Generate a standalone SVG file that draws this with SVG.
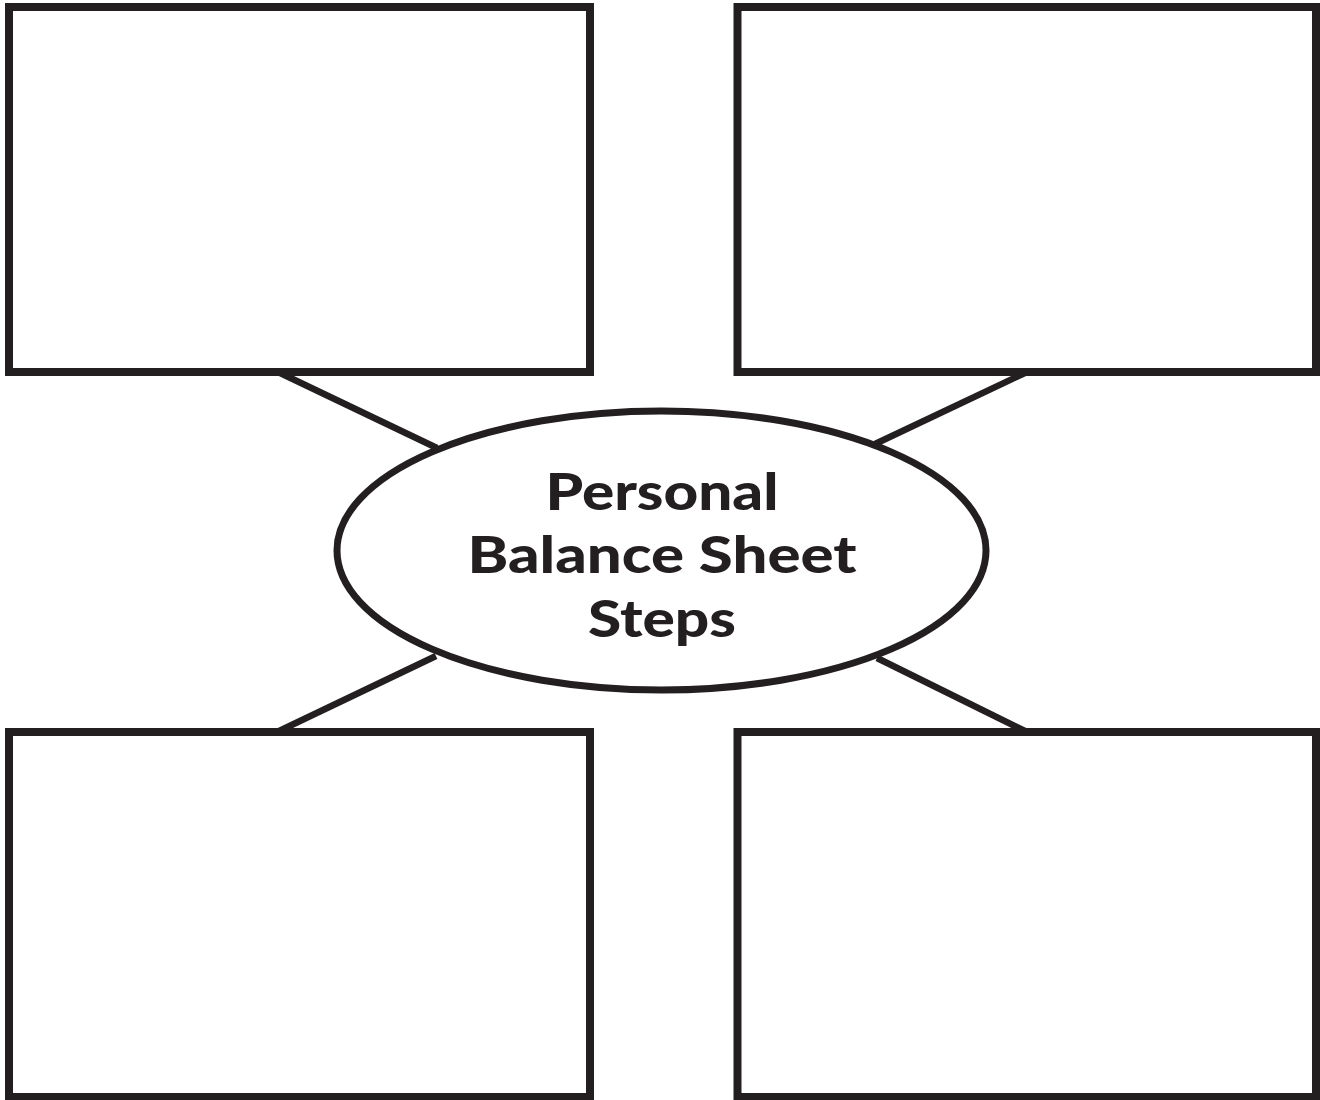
<svg xmlns="http://www.w3.org/2000/svg" width="1320" height="1100" viewBox="0 0 1320 1100">
<style>
.box{fill:#fff;stroke:#231f20;stroke-width:8}
.conn{stroke:#231f20;stroke-width:6.5;fill:none}
.hub{fill:#fff;stroke:#231f20;stroke-width:7}
.t{font-family:Lato,"Liberation Sans",sans-serif;font-weight:900;font-size:52px;fill:#231f20;text-anchor:middle}
</style>
<rect width="1320" height="1100" fill="#fff"/>
<g id="connectors">
<line class="conn" x1="278" y1="372" x2="437" y2="448"/>
<line class="conn" x1="1027" y1="372" x2="875" y2="444"/>
<line class="conn" x1="436" y1="656" x2="277" y2="732"/>
<line class="conn" x1="877" y1="658" x2="1027" y2="732"/>
</g>
<g id="box-top-left"><rect class="box" x="9" y="7" width="581" height="365"/></g>
<g id="box-top-right"><rect class="box" x="737.5" y="7" width="578.5" height="365"/></g>
<g id="box-bottom-left"><rect class="box" x="9" y="732" width="581" height="365"/></g>
<g id="box-bottom-right"><rect class="box" x="737.5" y="732" width="578.5" height="365"/></g>
<g id="hub">
<ellipse class="hub" cx="661.5" cy="550.5" rx="324.5" ry="139.5"/>
<text class="t" x="662" y="510" textLength="233" lengthAdjust="spacingAndGlyphs">Personal</text>
<text class="t" x="662" y="573" textLength="389" lengthAdjust="spacingAndGlyphs">Balance Sheet</text>
<text class="t" x="662" y="637" textLength="148" lengthAdjust="spacingAndGlyphs">Steps</text>
</g>
</svg>
